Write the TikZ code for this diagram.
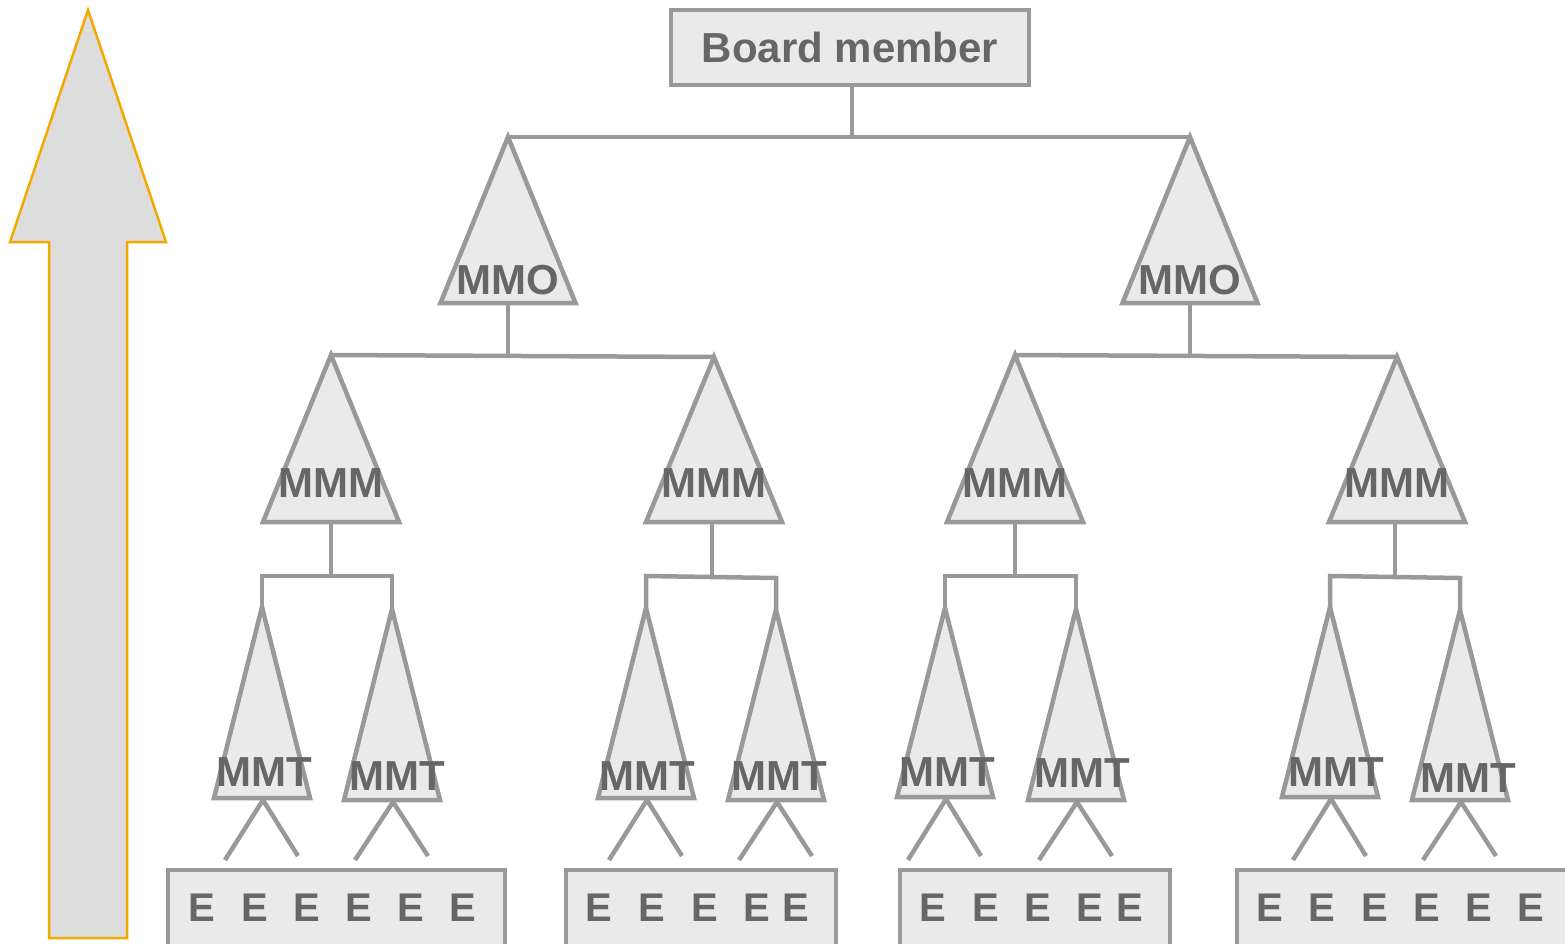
\documentclass[tikz,border=0pt]{standalone}
\usepackage{fontspec}
\setmainfont{Liberation Sans}
\definecolor{lg}{HTML}{999999}
\definecolor{fl}{HTML}{EAEAEA}
\definecolor{tx}{HTML}{666666}
\definecolor{og}{HTML}{F0AA00}
\definecolor{af}{HTML}{DDDDDD}
\begin{document}
\begin{tikzpicture}[x=1pt,y=-1pt,
  tri/.style={draw=lg,line width=4.5pt,fill=fl},
  conn/.style={draw=lg,line width=4.5pt},
  lbl/.style={text=tx,font=\bfseries\fontsize{42}{42}\selectfont,inner sep=0pt},
  ebox/.style={draw=lg,line width=4pt,fill=fl,inner sep=0pt},
  elbl/.style={text=tx,font=\bfseries\fontsize{40}{40}\selectfont,inner sep=0pt}]
\useasboundingbox (0,0) rectangle (1565,943);
% arrow
\draw[draw=og,fill=af,line width=2.5pt] (88,10) -- (166,242) -- (127,242) -- (127,938) -- (49,938) -- (49,242) -- (10,242) -- cycle;
% board
\node[ebox,minimum width=358pt,minimum height=75pt] (board) at (850,47.5) {};
\node[lbl] (boardtxt) at (850,47.5) {Board member};
% MMO
\foreach \n/\ax in {L/508,R/1190}{
  \draw[tri] (\ax,137) coordinate (mmo\n) -- (\ax+67.5,303) -- (\ax-67.5,303) -- cycle;
  \coordinate (mmob\n) at (\ax,305);
  \node[lbl] (mmotxt\n) at (\ax,280) {MMO};
}
% MMM
\foreach \n/\ax/\ay in {A/331/355,B/714/357,C/1015/355,D/1397/357}{
  \draw[tri] (\ax,\ay) coordinate (mmm\n) -- (\ax+68,522) -- (\ax-68,522) -- cycle;
  \node[lbl] (mmmtxt\n) at (\ax,483) {MMM};
}
% MMT
\foreach \n/\ax/\ay/\by/\lx/\ly in {a/262/607/798/264/772,b/392/609/800/397/776,c/646/608/798/647/776,d/776/610/800/779/776,e/945/608/797/947/772,f/1076/609/800/1082/773,g/1330/607/797/1336/772,h/1460/610/800/1468/778}{
  \draw[tri] (\ax,\ay) coordinate (mmt\n) -- (\ax+48,\by) -- (\ax-48,\by) -- cycle;
  \node[lbl] (mmttxt\n) at (\lx,\ly) {MMT};
  \coordinate (mmtb\n) at (\ax+1,\by+2);
  \coordinate (legl\n) at (\ax-37,860);
  \coordinate (legr\n) at (\ax+36,856);
  \draw[conn] (legl\n) -- (mmtb\n) -- (legr\n);
}
% junctions
\coordinate (jB) at (852,137);
\coordinate (jL) at (508,355);
\coordinate (jR) at (1190,355);
\draw[conn] (board.south -| jB) -- (jB);
\draw[conn] (mmoL) -- (mmoR);
\draw[conn] (mmobL) -- (jL);
\draw[conn] (mmobR) -- (jR);
\draw[conn] (mmmA) -- (mmmB);
\draw[conn] (mmmC) -- (mmmD);
% MMM to MMT bars
\foreach \g/\mx/\l/\r/\yl/\yr/\ta/\tb in {A/331/262/392/576/576/a/b,B/712/646/776/576/578/c/d,C/1015/945/1076/576/576/e/f,D/1395/1330/1460/576/578/g/h}{
  \coordinate (mb\g) at (\mx,524);
  \coordinate (mj\g) at (\mx,577);
  \coordinate (bl\g) at (\l,\yl);
  \coordinate (br\g) at (\r,\yr);
  \draw[conn] (mb\g) -- (mj\g);
  \draw[conn] (mmt\ta) -- (bl\g) -- (br\g) -- (mmt\tb);
}
% E boxes
\node[ebox,minimum width=337pt,minimum height=110pt] (e1) at (336.5,925) {};
\node[ebox,minimum width=270pt,minimum height=110pt] (e2) at (701,925) {};
\node[ebox,minimum width=270pt,minimum height=110pt] (e3) at (1035,925) {};
\node[ebox,minimum width=383pt,minimum height=110pt] (e4) at (1428.5,925) {};
\foreach \x [count=\i] in {202,255,307,359,411,463,599,652,705,757,796,933,986,1038,1090,1130,1270,1322,1375,1427,1479,1531}{
  \node[elbl] (E\i) at (\x,908) {E};
}
\end{tikzpicture}
\end{document}
